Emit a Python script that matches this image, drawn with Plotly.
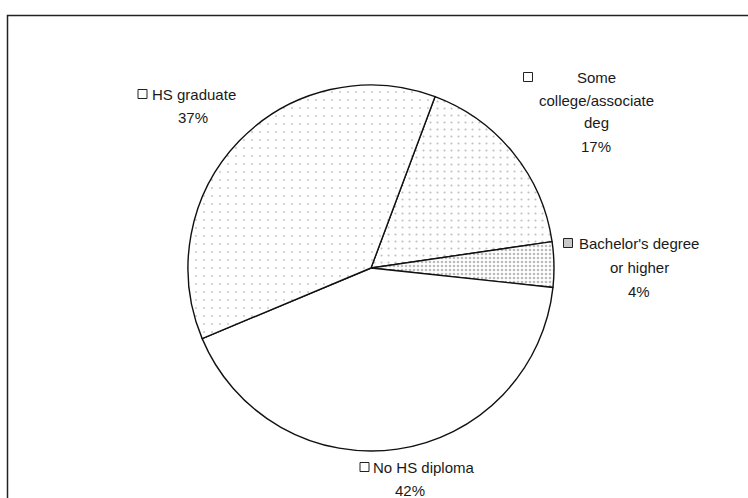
import plotly.graph_objects as go

# Educational attainment shares
categories = ["Some college/associate deg", "Bachelor's degree or higher",
              "No HS diploma", "HS graduate"]
values = [17, 4, 42, 37]
label_lines = [["Some", "college/associate", "deg"],
               ["Bachelor's degree", "or higher"],
               ["No HS diploma"],
               ["HS graduate"]]

W, H = 748, 498
FONT = "Liberation Sans, Arial, sans-serif"
FS = 15
TXT = "#1a1a1a"

# pie geometry in pixels
cx, cy, r = 371, 268, 183

def px(x):
    return x / W

def py(y):
    return 1 - y / H

fig = go.Figure(go.Pie(
    labels=categories,
    values=values,
    sort=False,
    direction="clockwise",
    rotation=20.5,
    textinfo="none",
    hoverinfo="label+percent",
    showlegend=False,
    domain=dict(x=[px(cx - r), px(cx + r)], y=[py(cy + r), py(cy - r)]),
    marker=dict(
        colors=["white", "white", "white", "white"],
        line=dict(color="#111111", width=1.4),
        pattern=dict(
            shape=[".", ".", "", "."],
            size=[7, 4, 8, 8],
            solidity=[0.07, 0.35, 0.0, 0.05],
            fgcolor=["#808080", "#777777", "#8a8a8a", "#909090"],
            bgcolor="white",
            fillmode="overlay",
        ),
    ),
))

total = sum(values)
pct = [f"{v / total * 100:.0f}%" for v in values]

# per label: first-line anchor x, anchor side, first-line y, line step,
# centre x of the following lines, key box centre (x, y)
placement = [
    dict(x=596, anchor="center", y=77, step=23, cx=596, key=(528, 77)),
    dict(x=577, anchor="left", y=243, step=24, cx=639, key=(568, 243)),
    dict(x=371, anchor="left", y=467, step=23, cx=410, key=(364.5, 467)),
    dict(x=150, anchor="left", y=94, step=23, cx=193, key=(142.5, 94)),
]
key_fill = ["white", "#c8c8c8", "white", "white"]

annotations = []
shapes = []
for i, lines in enumerate(label_lines):
    p = placement[i]
    rows = lines + [pct[i]]
    for j, line in enumerate(rows):
        first = j == 0
        annotations.append(dict(
            x=px(p["x"] if first else p["cx"]), y=py(p["y"] + j * p["step"]),
            xref="paper", yref="paper",
            text=line, showarrow=False,
            xanchor=p["anchor"] if first else "center", yanchor="middle",
            font=dict(family=FONT, size=FS, color=TXT),
        ))
    kx, ky = p["key"]
    shapes.append(dict(
        type="rect", xref="paper", yref="paper",
        x0=px(kx - 4.5), x1=px(kx + 4.5), y0=py(ky + 4.5), y1=py(ky - 4.5),
        line=dict(color="#222222", width=1), fillcolor=key_fill[i],
    ))

# chart area border running off the page
shapes.append(dict(
    type="rect", xref="paper", yref="paper",
    x0=px(7.5), x1=1.05, y0=-0.05, y1=py(15.5),
    line=dict(color="#222222", width=1.5), fillcolor="rgba(0,0,0,0)",
))

fig.update_layout(
    width=W, height=H,
    margin=dict(l=0, r=0, t=0, b=0),
    paper_bgcolor="white", plot_bgcolor="white",
    annotations=annotations,
    shapes=shapes,
)

fig.write_html("out.html")
